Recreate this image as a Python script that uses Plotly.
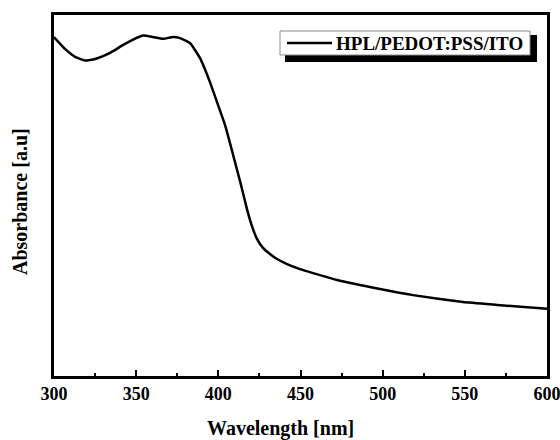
import plotly.graph_objects as go

wavelength = [300, 306.7, 312.8, 318.9, 325.0, 334.1, 343.2, 354.2, 360.2, 366.3, 372.4, 376.7,
              382.8, 388.8, 394.9, 399.8, 404.1, 407.1, 410.1, 413.2, 415.6, 417.4, 419.3,
              421.1, 423.5, 427.2, 431.4, 435.7, 441.8, 449.7, 457.6, 472.2, 498.4, 518.5,
              548.9, 569.6, 600]
absorbance = [0.939, 0.906, 0.884, 0.874, 0.878, 0.895, 0.920, 0.943, 0.939, 0.934, 0.939, 0.936,
              0.922, 0.881, 0.814, 0.751, 0.695, 0.645, 0.593, 0.540, 0.496, 0.463, 0.432,
              0.407, 0.380, 0.355, 0.338, 0.324, 0.310, 0.296, 0.285, 0.266, 0.241, 0.224,
              0.205, 0.197, 0.186]
series_name = "HPL/PEDOT:PSS/ITO"
x_title = "Wavelength [nm]"
y_title = "Absorbance [a.u]"
x_ticks = [300, 350, 400, 450, 500, 550, 600]

FONT = "Liberation Serif"

# plot area in pixels (for the hand-drawn, shadowed legend box and titles)
L, R, T, B = 54, 547, 15, 376
def px(x):
    return (x - L) / (R - L)
def py(y):
    return (B - y) / (B - T)

fig = go.Figure()
fig.add_trace(go.Scatter(x=wavelength, y=absorbance, mode="lines", name=series_name,
                         showlegend=False,
                         line=dict(color="black", width=2.5, shape="spline", smoothing=0.4)))

fig.update_layout(
    width=560, height=440,
    margin=dict(l=L, r=560 - R, t=T, b=440 - B, autoexpand=False),
    paper_bgcolor="white", plot_bgcolor="white",
    font=dict(family=FONT, color="black"),
    showlegend=False,
    xaxis=dict(range=[300, 600], tickvals=x_ticks, ticktext=[str(v) for v in x_ticks],
               automargin=False, ticklabeloverflow="allow",
               ticks="inside", ticklen=6, tickwidth=2, tickcolor="black",
               minor=dict(ticks="inside", ticklen=3, tickwidth=2, dtick=25, tickcolor="black"),
               showline=True, linecolor="black", linewidth=2.5, mirror=True,
               showgrid=False, zeroline=False,
               tickfont=dict(family=FONT, size=18, color="black", weight="bold")),
    yaxis=dict(range=[0, 1], showticklabels=False, ticks="", automargin=False,
               showline=True, linecolor="black", linewidth=2.5, mirror=True,
               showgrid=False, zeroline=False),
)

# axis titles
fig.add_annotation(xref="paper", yref="paper", x=px(280), y=py(428),
                   xanchor="center", yanchor="middle", showarrow=False, text=x_title,
                   font=dict(family=FONT, size=20, color="black", weight="bold"))
fig.add_annotation(xref="paper", yref="paper", x=px(20), y=py(202),
                   xanchor="center", yanchor="middle", showarrow=False, text=y_title,
                   textangle=-90,
                   font=dict(family=FONT, size=20, color="black", weight="bold"))

# legend: shadow, box, sample line, label
fig.add_shape(type="rect", xref="paper", yref="paper", layer="above",
              x0=px(285), x1=px(537), y0=py(62), y1=py(35),
              fillcolor="black", line=dict(width=0))
fig.add_shape(type="rect", xref="paper", yref="paper", layer="above",
              x0=px(280), x1=px(530), y0=py(55), y1=py(31),
              fillcolor="white", line=dict(color="#8a8a8a", width=1))
fig.add_shape(type="line", xref="paper", yref="paper", layer="above",
              x0=px(287), x1=px(332), y0=py(43), y1=py(43),
              line=dict(color="black", width=2.5))
fig.add_annotation(xref="paper", yref="paper", x=px(334), y=py(43),
                   xanchor="left", yanchor="middle", showarrow=False,
                   text=series_name,
                   font=dict(family=FONT, size=19, color="black", weight="bold"))

fig.write_html("out.html")
